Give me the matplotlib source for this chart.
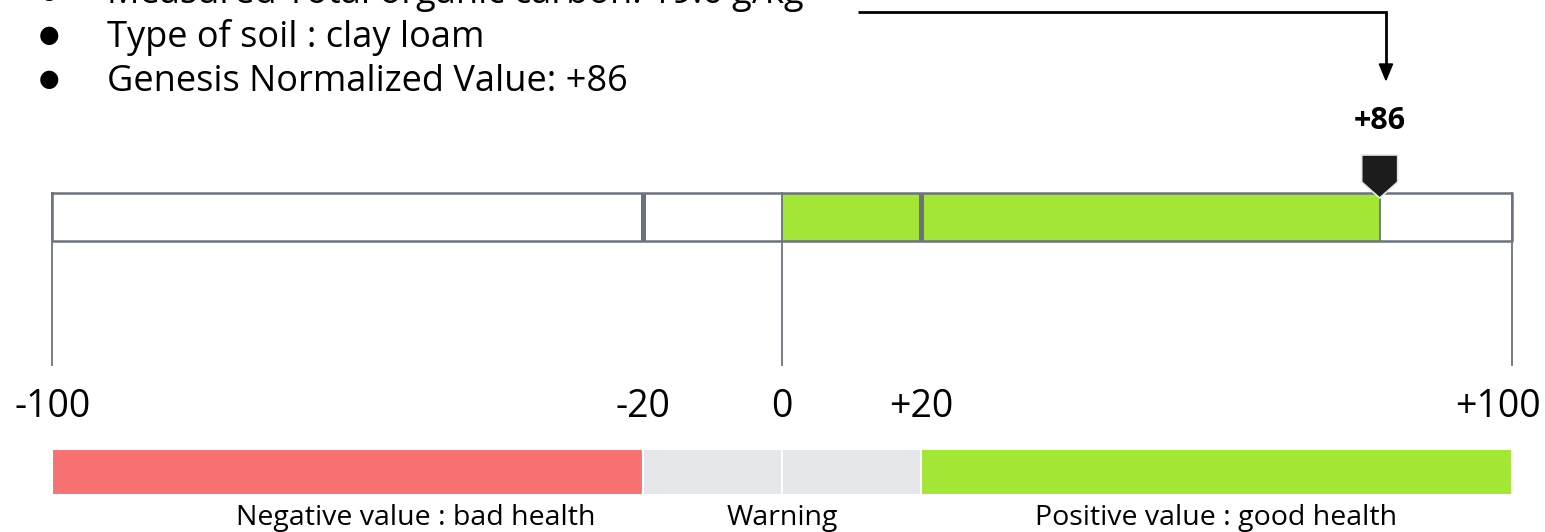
import matplotlib
matplotlib.use("Agg")
import matplotlib.pyplot as plt
from matplotlib.patches import Polygon

# ---- content -------------------------------------------------------------
info_lines = [
    "Measured Total organic carbon: 19.6 g/kg",
    "Type of soil : clay loam",
    "Genesis Normalized Value: +86",
]
score = 86
score_label = "+86"

gauge_range = (-105, 105)          # drawn extent of the gauge frame
zone_dividers = [-20, 20]
tick_values = [-105, -20, 0, 20, 105]
tick_labels = ["-100", "-20", "0", "+20", "+100"]

legend_edges = [-105, -20, 0, 20, 105]
legend_colors = ["#F87171", "#E5E7EB", "#E5E7EB", "#A3E635"]
legend_texts = ["Negative value : bad health", "Warning", "Positive value : good health"]
legend_text_x = [-52.7, 0, 62.5]

# ---- style ---------------------------------------------------------------
FONT = "Open Sans"
GREEN = "#A3E635"
STROKE = "#6B7280"
W, H, DPI = 1545, 532, 100

fig = plt.figure(figsize=(W / DPI, H / DPI), dpi=DPI)
ax = fig.add_axes([0, 0, 1, 1])
px_per_unit = 6.95
zero_px = 782
ax.set_xlim(-zero_px / px_per_unit, (W - zero_px) / px_per_unit)
ax.set_ylim(H, 0)
ax.axis("off")


def px(x):
    """Horizontal pixel position -> value units."""
    return (x - zero_px) / px_per_unit


# bullet list
line_base = [3, 47, 91]
for txt, yb in zip(info_lines, line_base):
    ax.text(px(49), yb - 12, "\u25cf", family="DejaVu Sans",
            fontsize=17, ha="center", va="center", color="black")
    ax.text(px(107), yb, txt, family=FONT, fontsize=26,
            ha="left", va="baseline", color="black")

# elbow arrow pointing at the marker
ax_x0 = px(858)
ax_x1 = score + 0.9
ax.plot([ax_x0, ax_x1, ax_x1], [12, 12, 66], color="black", lw=2,
        solid_joinstyle="miter", solid_capstyle="butt")
ax.add_patch(Polygon([[ax_x1 - 0.95, 64], [ax_x1 + 0.95, 64], [ax_x1, 80]],
                     closed=True, color="black"))

# gauge
g_top, g_bot = 193, 241
ax.barh((g_top + g_bot) / 2, score, left=0, height=g_bot - g_top,
        color=GREEN, edgecolor="none", zorder=1)
ax.plot([gauge_range[0], gauge_range[1], gauge_range[1], gauge_range[0], gauge_range[0]],
        [g_top, g_top, g_bot, g_bot, g_top], color=STROKE, lw=1.8, zorder=3)
ax.plot([score, score], [g_top, g_bot], color=STROKE, lw=1.3, zorder=3)
for d in zone_dividers:
    ax.plot([d, d], [g_top, g_bot], color=STROKE, lw=3.6, zorder=3, solid_capstyle="butt")
for x in [gauge_range[0], 0, gauge_range[1]]:
    ax.plot([x, x], [g_top, 365], color=STROKE, lw=1.3, zorder=2)

# marker
hw = 18 / px_per_unit
ax.add_patch(Polygon([[score - hw, 155], [score + hw, 155], [score + hw, 182],
                      [score, 198], [score - hw, 182]], closed=True,
                     facecolor="#1C1C1C", edgecolor="#E5E7EB", lw=1.2, zorder=5))
ax.text(score, 121, score_label, family=FONT, fontsize=22, fontweight="bold",
        ha="center", va="center", color="black")

# scale labels (end labels kept inside the canvas)
tick_ha = ["center", "center", "center", "center", "right"]
tick_x = list(tick_values)
tick_x[-1] = px(1541)
for v, lab, ha in zip(tick_x, tick_labels, tick_ha):
    ax.text(v, 407, lab, family=FONT, fontsize=27, ha=ha, va="center", color="black")

# legend band
for lo, hi, c in zip(legend_edges[:-1], legend_edges[1:], legend_colors):
    ax.barh(471.5, hi - lo, left=lo, height=46, color=c, edgecolor="white", lw=1.5)
for x, t in zip(legend_text_x, legend_texts):
    ax.text(x, 517.5, t, family=FONT, fontsize=20.5, ha="center", va="center", color="black")

fig.savefig("out.png", dpi=DPI)
